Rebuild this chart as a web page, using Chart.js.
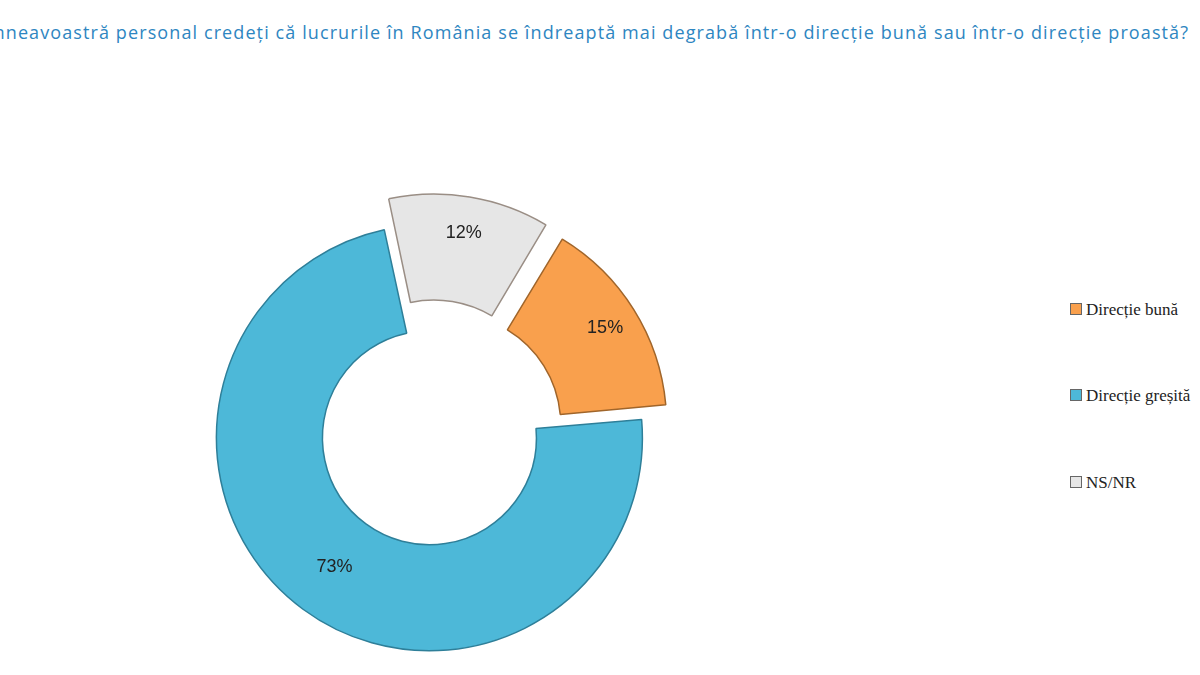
<!DOCTYPE html>
<html>
<head>
<meta charset="utf-8">
<script src="https://cdn.jsdelivr.net/npm/chart.js@4/dist/chart.umd.min.js"></script>
<style>
body { margin: 0; width: 1200px; height: 675px; overflow: hidden; background: #fff; font-family: "Liberation Sans", sans-serif; position: relative; }
#title { position: absolute; left: -12px; top: 20px; white-space: nowrap; color: #2E86C1; font-size: 18px; letter-spacing: 1.1px; font-family: "Open Sans", sans-serif; }
#wrap { position: absolute; left: 0; top: 87px; width: 860px; height: 700px; }
.leg { position: absolute; left: 1070px; font-size: 17px; color: #222; white-space: nowrap; font-family: "Liberation Serif", serif; }
.leg span { display: inline-block; width: 10px; height: 10px; margin-right: 4px; border: 1px solid #666; }
</style>
</head>
<body>
<div id="title">mneavoastră personal credeți că lucrurile în România se îndreaptă mai degrabă într-o direcție bună sau într-o direcție proastă?</div>
<div id="wrap"><canvas id="chart"></canvas></div>
<div id="legend"></div>
<script>
const categories = ['Direcție bună', 'Direcție greșită', 'NS/NR'];
const values = [15, 73, 12];
const colors = ['#F9A04D', '#4DB8D8', '#E6E6E6'];
const borders = ['#A0652A', '#2E7F99', '#9A8E85'];

document.addEventListener('DOMContentLoaded', function () {
    const legend = document.getElementById('legend');
    const tops = [300, 386, 473];
    categories.forEach(function (c, i) {
        legend.innerHTML += `<div class="leg" style="top:${tops[i]}px"><span style="background:${colors[i]}"></span>${c}</div>`;
    });

    const labelPlugin = {
        id: 'labels',
        afterDatasetsDraw(chart) {
            const ctx = chart.ctx;
            ctx.save();
            ctx.font = '18px "Liberation Sans", sans-serif';
            ctx.fillStyle = '#222';
            ctx.textAlign = 'center';
            ctx.textBaseline = 'middle';
            chart.getDatasetMeta(0).data.forEach(function (arc, i) {
                const p = arc.tooltipPosition();
                ctx.fillText(values[i] + '%', p.x, p.y);
            });
            ctx.restore();
        }
    };

    const ctx = document.getElementById('chart').getContext('2d');
    new Chart(ctx, {
        type: 'doughnut',
        data: {
            labels: categories,
            datasets: [{
                data: values,
                backgroundColor: colors,
                borderColor: borders,
                borderWidth: 1.5,
                offset: [95, 4, 95],
            }],
        },
        options: {
            responsive: true,
            maintainAspectRatio: false,
            animation: false,
            rotation: 31,
            radius: 212,
            cutout: '50%',
            plugins: {
                legend: { display: false },
                tooltip: { enabled: false },
            },
        },
        plugins: [labelPlugin],
    });
});
</script>
</body>
</html>
